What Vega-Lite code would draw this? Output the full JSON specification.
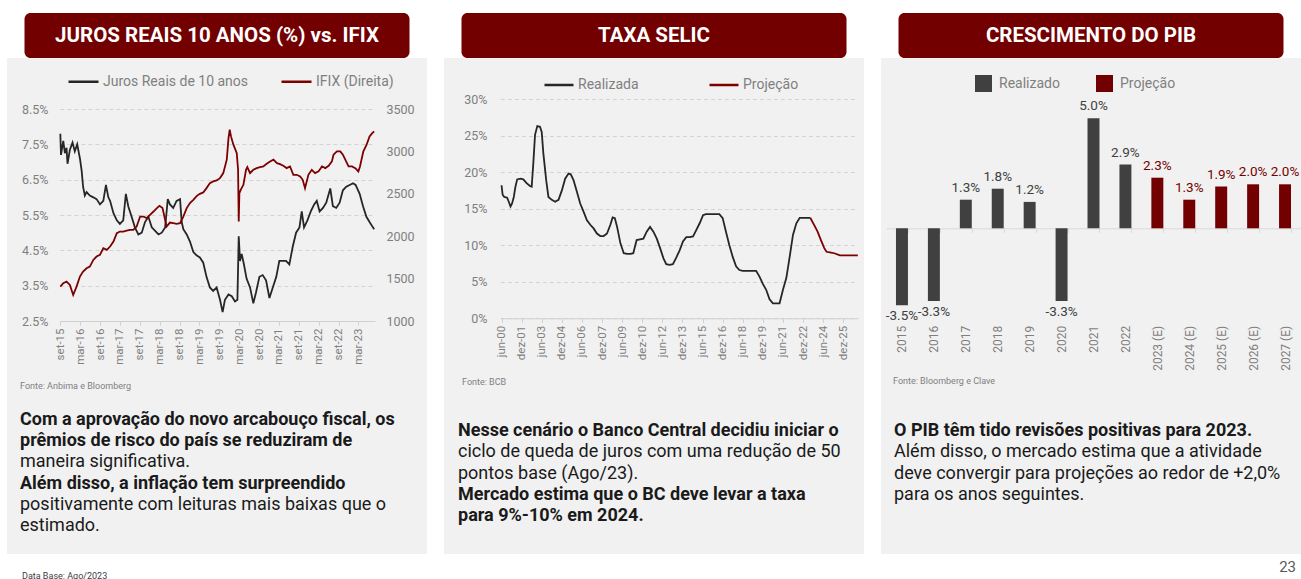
{
  "$schema": "https://vega.github.io/schema/vega-lite/v6.json",
  "background": "white",
  "padding": {"left": 7, "top": 13, "right": 0, "bottom": 0},
  "autosize": {"type": "pad"},
  "spacing": 17,
  "config": {
    "font": "Roboto",
    "view": {"stroke": null},
    "axis": {"labelFont": "Roboto", "labelColor": "#7f7f7f", "titleFont": "Roboto"},
    "axisX": {"labelOverlap": false},
    "legend": {"labelFont": "Roboto", "padding": 0},
    "title": {"font": "Roboto"},
    "locale": {"number": {"decimal": ".", "thousands": ",", "grouping": [3], "currency": ["$", ""], "minus": "-"}}
  },
  "datasets": {
    "juros": [
      {"dt": "2015-09-01", "v": 7.8}, {"dt": "2015-09-07", "v": 7.2}, {"dt": "2015-09-28", "v": 7.6}, {"dt": "2015-10-13", "v": 7.25},
      {"dt": "2015-10-28", "v": 7.4}, {"dt": "2015-11-06", "v": 6.95}, {"dt": "2015-11-28", "v": 7.35}, {"dt": "2015-12-22", "v": 7.55},
      {"dt": "2016-01-12", "v": 7.3}, {"dt": "2016-02-03", "v": 7.5}, {"dt": "2016-02-28", "v": 7.1}, {"dt": "2016-03-15", "v": 6.75},
      {"dt": "2016-03-28", "v": 6.3}, {"dt": "2016-04-13", "v": 6.05}, {"dt": "2016-04-29", "v": 6.15}, {"dt": "2016-05-29", "v": 6.05},
      {"dt": "2016-06-30", "v": 6.0}, {"dt": "2016-07-30", "v": 5.95}, {"dt": "2016-08-30", "v": 5.8}, {"dt": "2016-09-30", "v": 5.9},
      {"dt": "2016-10-24", "v": 6.35}, {"dt": "2016-11-15", "v": 6.0}, {"dt": "2016-12-01", "v": 5.9}, {"dt": "2017-01-01", "v": 5.55},
      {"dt": "2017-02-01", "v": 5.35}, {"dt": "2017-03-01", "v": 5.25}, {"dt": "2017-04-01", "v": 5.35}, {"dt": "2017-04-25", "v": 6.1},
      {"dt": "2017-05-17", "v": 5.75}, {"dt": "2017-06-17", "v": 5.45}, {"dt": "2017-07-17", "v": 5.15}, {"dt": "2017-08-18", "v": 4.95},
      {"dt": "2017-09-18", "v": 5.0}, {"dt": "2017-10-18", "v": 5.3}, {"dt": "2017-11-18", "v": 5.45}, {"dt": "2017-12-19", "v": 5.15},
      {"dt": "2018-01-19", "v": 5.05}, {"dt": "2018-02-19", "v": 4.95}, {"dt": "2018-03-21", "v": 5.0}, {"dt": "2018-04-21", "v": 5.15},
      {"dt": "2018-05-15", "v": 5.95}, {"dt": "2018-06-04", "v": 5.8}, {"dt": "2018-07-04", "v": 5.7}, {"dt": "2018-08-04", "v": 5.9},
      {"dt": "2018-09-05", "v": 5.95}, {"dt": "2018-09-20", "v": 5.3}, {"dt": "2018-10-05", "v": 5.1}, {"dt": "2018-11-05", "v": 4.95},
      {"dt": "2018-12-05", "v": 4.75}, {"dt": "2019-01-05", "v": 4.45}, {"dt": "2019-02-06", "v": 4.35}, {"dt": "2019-03-06", "v": 4.3},
      {"dt": "2019-04-06", "v": 4.15}, {"dt": "2019-05-06", "v": 3.75}, {"dt": "2019-06-06", "v": 3.45}, {"dt": "2019-07-06", "v": 3.35},
      {"dt": "2019-08-07", "v": 3.45}, {"dt": "2019-09-07", "v": 3.1}, {"dt": "2019-10-01", "v": 2.75}, {"dt": "2019-10-22", "v": 3.1},
      {"dt": "2019-11-24", "v": 3.25}, {"dt": "2019-12-24", "v": 3.2}, {"dt": "2020-01-23", "v": 3.05}, {"dt": "2020-02-14", "v": 3.1},
      {"dt": "2020-02-26", "v": 4.9}, {"dt": "2020-03-09", "v": 4.2}, {"dt": "2020-03-24", "v": 4.4}, {"dt": "2020-04-14", "v": 4.1},
      {"dt": "2020-05-08", "v": 3.7}, {"dt": "2020-06-09", "v": 3.45}, {"dt": "2020-07-09", "v": 3.0}, {"dt": "2020-08-02", "v": 3.3},
      {"dt": "2020-09-03", "v": 3.75}, {"dt": "2020-10-03", "v": 3.8}, {"dt": "2020-11-03", "v": 3.65}, {"dt": "2020-12-04", "v": 3.15},
      {"dt": "2021-01-04", "v": 3.45}, {"dt": "2021-02-05", "v": 3.75}, {"dt": "2021-03-05", "v": 4.2}, {"dt": "2021-04-05", "v": 4.2},
      {"dt": "2021-05-05", "v": 4.2}, {"dt": "2021-06-05", "v": 4.1}, {"dt": "2021-07-06", "v": 4.6}, {"dt": "2021-08-06", "v": 5.0},
      {"dt": "2021-09-06", "v": 5.15}, {"dt": "2021-09-27", "v": 5.6}, {"dt": "2021-10-18", "v": 5.15}, {"dt": "2021-11-18", "v": 5.35},
      {"dt": "2021-12-19", "v": 5.6}, {"dt": "2022-01-19", "v": 5.8}, {"dt": "2022-02-12", "v": 5.9}, {"dt": "2022-03-10", "v": 5.6},
      {"dt": "2022-04-10", "v": 5.7}, {"dt": "2022-05-10", "v": 5.85}, {"dt": "2022-06-16", "v": 6.25}, {"dt": "2022-07-10", "v": 5.75},
      {"dt": "2022-08-10", "v": 5.7}, {"dt": "2022-09-10", "v": 5.85}, {"dt": "2022-10-10", "v": 6.2}, {"dt": "2022-11-10", "v": 6.3},
      {"dt": "2022-12-11", "v": 6.35}, {"dt": "2023-01-11", "v": 6.4}, {"dt": "2023-02-04", "v": 6.35}, {"dt": "2023-03-13", "v": 6.1},
      {"dt": "2023-04-13", "v": 5.75}, {"dt": "2023-05-14", "v": 5.45}, {"dt": "2023-06-12", "v": 5.3}, {"dt": "2023-07-13", "v": 5.15},
      {"dt": "2023-07-24", "v": 5.1}
    ],
    "ifix": [
      {"dt": "2015-09-01", "v": 1406}, {"dt": "2015-09-28", "v": 1445}, {"dt": "2015-10-28", "v": 1465}, {"dt": "2015-11-28", "v": 1425},
      {"dt": "2015-12-28", "v": 1307}, {"dt": "2016-01-28", "v": 1406}, {"dt": "2016-02-28", "v": 1524}, {"dt": "2016-03-28", "v": 1583},
      {"dt": "2016-04-29", "v": 1622}, {"dt": "2016-05-29", "v": 1642}, {"dt": "2016-06-30", "v": 1720}, {"dt": "2016-07-30", "v": 1760},
      {"dt": "2016-08-30", "v": 1780}, {"dt": "2016-09-30", "v": 1858}, {"dt": "2016-11-01", "v": 1839}, {"dt": "2016-12-01", "v": 1878},
      {"dt": "2017-01-01", "v": 1937}, {"dt": "2017-02-01", "v": 2035}, {"dt": "2017-03-01", "v": 2055}, {"dt": "2017-04-01", "v": 2055},
      {"dt": "2017-05-02", "v": 2067}, {"dt": "2017-06-02", "v": 2075}, {"dt": "2017-07-02", "v": 2075}, {"dt": "2017-08-02", "v": 2114},
      {"dt": "2017-09-03", "v": 2232}, {"dt": "2017-10-03", "v": 2232}, {"dt": "2017-11-03", "v": 2213}, {"dt": "2017-12-03", "v": 2252},
      {"dt": "2018-01-04", "v": 2291}, {"dt": "2018-02-04", "v": 2331}, {"dt": "2018-02-28", "v": 2358}, {"dt": "2018-03-28", "v": 2331},
      {"dt": "2018-05-04", "v": 2114}, {"dt": "2018-06-04", "v": 2161}, {"dt": "2018-07-04", "v": 2154}, {"dt": "2018-08-04", "v": 2146},
      {"dt": "2018-09-05", "v": 2154}, {"dt": "2018-10-05", "v": 2232}, {"dt": "2018-11-05", "v": 2331}, {"dt": "2018-12-05", "v": 2390},
      {"dt": "2019-01-05", "v": 2429}, {"dt": "2019-02-06", "v": 2476}, {"dt": "2019-03-06", "v": 2500}, {"dt": "2019-04-06", "v": 2516},
      {"dt": "2019-05-06", "v": 2567}, {"dt": "2019-06-06", "v": 2626}, {"dt": "2019-07-06", "v": 2646}, {"dt": "2019-08-07", "v": 2657},
      {"dt": "2019-09-07", "v": 2685}, {"dt": "2019-10-07", "v": 2744}, {"dt": "2019-11-08", "v": 2902}, {"dt": "2019-11-24", "v": 3157},
      {"dt": "2019-12-05", "v": 3256}, {"dt": "2019-12-17", "v": 3177}, {"dt": "2020-01-08", "v": 3079}, {"dt": "2020-02-08", "v": 2980},
      {"dt": "2020-02-20", "v": 2783}, {"dt": "2020-02-26", "v": 2173}, {"dt": "2020-03-03", "v": 2508}, {"dt": "2020-03-15", "v": 2547},
      {"dt": "2020-04-09", "v": 2606}, {"dt": "2020-05-03", "v": 2783}, {"dt": "2020-05-15", "v": 2815}, {"dt": "2020-06-09", "v": 2744},
      {"dt": "2020-07-09", "v": 2783}, {"dt": "2020-08-09", "v": 2803}, {"dt": "2020-09-09", "v": 2815}, {"dt": "2020-10-09", "v": 2823},
      {"dt": "2020-11-09", "v": 2854}, {"dt": "2020-12-10", "v": 2882}, {"dt": "2021-01-10", "v": 2902}, {"dt": "2021-02-11", "v": 2862},
      {"dt": "2021-03-11", "v": 2850}, {"dt": "2021-04-11", "v": 2830}, {"dt": "2021-05-11", "v": 2803}, {"dt": "2021-06-11", "v": 2823},
      {"dt": "2021-07-12", "v": 2724}, {"dt": "2021-08-12", "v": 2724}, {"dt": "2021-09-12", "v": 2705}, {"dt": "2021-10-06", "v": 2665},
      {"dt": "2021-10-27", "v": 2567}, {"dt": "2021-11-27", "v": 2724}, {"dt": "2021-12-28", "v": 2783}, {"dt": "2022-01-28", "v": 2744},
      {"dt": "2022-02-28", "v": 2764}, {"dt": "2022-04-01", "v": 2823}, {"dt": "2022-05-01", "v": 2803}, {"dt": "2022-06-01", "v": 2830},
      {"dt": "2022-07-01", "v": 2882}, {"dt": "2022-07-16", "v": 2961}, {"dt": "2022-08-16", "v": 3000}, {"dt": "2022-09-16", "v": 3000},
      {"dt": "2022-10-10", "v": 2961}, {"dt": "2022-11-01", "v": 2902}, {"dt": "2022-12-01", "v": 2823}, {"dt": "2023-01-01", "v": 2823},
      {"dt": "2023-02-01", "v": 2803}, {"dt": "2023-03-01", "v": 2764}, {"dt": "2023-03-16", "v": 2823}, {"dt": "2023-04-16", "v": 3000},
      {"dt": "2023-05-16", "v": 3079}, {"dt": "2023-06-12", "v": 3177}, {"dt": "2023-07-03", "v": 3209}, {"dt": "2023-07-24", "v": 3236}
    ],
    "selic": [
      {"dt": "2000-06-01", "v": 18.2, "serie": "Realizada"}, {"dt": "2000-07-01", "v": 16.9, "serie": "Realizada"},
      {"dt": "2000-08-15", "v": 16.6, "serie": "Realizada"}, {"dt": "2000-11-01", "v": 16.5, "serie": "Realizada"},
      {"dt": "2000-12-15", "v": 15.95, "serie": "Realizada"}, {"dt": "2001-02-01", "v": 15.3, "serie": "Realizada"},
      {"dt": "2001-03-15", "v": 15.7, "serie": "Realizada"}, {"dt": "2001-05-01", "v": 16.6, "serie": "Realizada"},
      {"dt": "2001-06-15", "v": 18.0, "serie": "Realizada"}, {"dt": "2001-08-01", "v": 19.0, "serie": "Realizada"},
      {"dt": "2001-11-01", "v": 19.1, "serie": "Realizada"}, {"dt": "2002-01-15", "v": 19.0, "serie": "Realizada"},
      {"dt": "2002-04-15", "v": 18.5, "serie": "Realizada"}, {"dt": "2002-07-15", "v": 18.1, "serie": "Realizada"},
      {"dt": "2002-09-01", "v": 18.0, "serie": "Realizada"}, {"dt": "2002-10-15", "v": 21.2, "serie": "Realizada"},
      {"dt": "2002-12-01", "v": 25.1, "serie": "Realizada"}, {"dt": "2003-02-01", "v": 26.3, "serie": "Realizada"},
      {"dt": "2003-04-15", "v": 26.2, "serie": "Realizada"}, {"dt": "2003-06-01", "v": 25.5, "serie": "Realizada"},
      {"dt": "2003-07-15", "v": 22.6, "serie": "Realizada"}, {"dt": "2003-10-01", "v": 18.9, "serie": "Realizada"},
      {"dt": "2003-12-01", "v": 16.6, "serie": "Realizada"}, {"dt": "2004-03-01", "v": 16.2, "serie": "Realizada"},
      {"dt": "2004-06-01", "v": 15.95, "serie": "Realizada"}, {"dt": "2004-09-01", "v": 16.2, "serie": "Realizada"},
      {"dt": "2004-12-01", "v": 17.5, "serie": "Realizada"}, {"dt": "2005-03-01", "v": 19.1, "serie": "Realizada"},
      {"dt": "2005-06-01", "v": 19.8, "serie": "Realizada"}, {"dt": "2005-08-01", "v": 19.7, "serie": "Realizada"},
      {"dt": "2005-10-15", "v": 18.9, "serie": "Realizada"}, {"dt": "2006-01-15", "v": 17.3, "serie": "Realizada"},
      {"dt": "2006-04-15", "v": 15.7, "serie": "Realizada"}, {"dt": "2006-07-15", "v": 14.6, "serie": "Realizada"},
      {"dt": "2006-10-15", "v": 13.4, "serie": "Realizada"}, {"dt": "2007-01-15", "v": 12.8, "serie": "Realizada"},
      {"dt": "2007-04-15", "v": 12.3, "serie": "Realizada"}, {"dt": "2007-07-15", "v": 11.6, "serie": "Realizada"},
      {"dt": "2007-10-15", "v": 11.25, "serie": "Realizada"}, {"dt": "2008-01-15", "v": 11.25, "serie": "Realizada"},
      {"dt": "2008-04-15", "v": 11.6, "serie": "Realizada"}, {"dt": "2008-07-15", "v": 12.8, "serie": "Realizada"},
      {"dt": "2008-09-15", "v": 13.8, "serie": "Realizada"}, {"dt": "2008-11-15", "v": 13.7, "serie": "Realizada"},
      {"dt": "2009-01-15", "v": 12.5, "serie": "Realizada"}, {"dt": "2009-04-15", "v": 10.25, "serie": "Realizada"},
      {"dt": "2009-07-15", "v": 8.9, "serie": "Realizada"}, {"dt": "2009-10-15", "v": 8.8, "serie": "Realizada"},
      {"dt": "2010-01-15", "v": 8.8, "serie": "Realizada"}, {"dt": "2010-04-01", "v": 8.9, "serie": "Realizada"},
      {"dt": "2010-07-01", "v": 10.7, "serie": "Realizada"}, {"dt": "2010-10-01", "v": 10.8, "serie": "Realizada"},
      {"dt": "2011-01-01", "v": 10.9, "serie": "Realizada"}, {"dt": "2011-04-01", "v": 11.85, "serie": "Realizada"},
      {"dt": "2011-07-01", "v": 12.5, "serie": "Realizada"}, {"dt": "2011-10-01", "v": 11.85, "serie": "Realizada"},
      {"dt": "2012-01-01", "v": 10.9, "serie": "Realizada"}, {"dt": "2012-04-01", "v": 9.6, "serie": "Realizada"},
      {"dt": "2012-07-01", "v": 8.2, "serie": "Realizada"}, {"dt": "2012-09-15", "v": 7.4, "serie": "Realizada"},
      {"dt": "2012-12-15", "v": 7.3, "serie": "Realizada"}, {"dt": "2013-03-15", "v": 7.4, "serie": "Realizada"},
      {"dt": "2013-06-15", "v": 8.3, "serie": "Realizada"}, {"dt": "2013-09-15", "v": 9.3, "serie": "Realizada"},
      {"dt": "2013-12-15", "v": 10.5, "serie": "Realizada"}, {"dt": "2014-03-15", "v": 11.1, "serie": "Realizada"},
      {"dt": "2014-06-15", "v": 11.1, "serie": "Realizada"}, {"dt": "2014-09-15", "v": 11.2, "serie": "Realizada"},
      {"dt": "2014-12-15", "v": 12.1, "serie": "Realizada"}, {"dt": "2015-03-15", "v": 13.0, "serie": "Realizada"},
      {"dt": "2015-06-15", "v": 14.1, "serie": "Realizada"}, {"dt": "2015-09-01", "v": 14.25, "serie": "Realizada"},
      {"dt": "2016-09-01", "v": 14.25, "serie": "Realizada"}, {"dt": "2016-12-01", "v": 13.7, "serie": "Realizada"},
      {"dt": "2017-03-01", "v": 11.85, "serie": "Realizada"}, {"dt": "2017-06-01", "v": 10.0, "serie": "Realizada"},
      {"dt": "2017-09-01", "v": 8.4, "serie": "Realizada"}, {"dt": "2017-12-01", "v": 7.1, "serie": "Realizada"},
      {"dt": "2018-03-01", "v": 6.6, "serie": "Realizada"}, {"dt": "2018-06-01", "v": 6.5, "serie": "Realizada"},
      {"dt": "2019-06-01", "v": 6.5, "serie": "Realizada"}, {"dt": "2019-09-01", "v": 5.7, "serie": "Realizada"},
      {"dt": "2019-12-01", "v": 4.7, "serie": "Realizada"}, {"dt": "2020-03-01", "v": 3.9, "serie": "Realizada"},
      {"dt": "2020-06-01", "v": 2.6, "serie": "Realizada"}, {"dt": "2020-09-01", "v": 2.05, "serie": "Realizada"},
      {"dt": "2021-03-01", "v": 2.05, "serie": "Realizada"}, {"dt": "2021-06-01", "v": 3.9, "serie": "Realizada"},
      {"dt": "2021-09-01", "v": 5.5, "serie": "Realizada"}, {"dt": "2021-12-01", "v": 8.4, "serie": "Realizada"},
      {"dt": "2022-03-01", "v": 11.4, "serie": "Realizada"}, {"dt": "2022-06-01", "v": 13.0, "serie": "Realizada"},
      {"dt": "2022-09-01", "v": 13.75, "serie": "Realizada"}, {"dt": "2023-06-15", "v": 13.75, "serie": "Realizada"},
      {"dt": "2023-06-15", "v": 13.75, "serie": "Projeção"}, {"dt": "2023-10-01", "v": 12.75, "serie": "Projeção"},
      {"dt": "2024-01-01", "v": 11.85, "serie": "Projeção"}, {"dt": "2024-04-01", "v": 10.7, "serie": "Projeção"},
      {"dt": "2024-07-01", "v": 9.6, "serie": "Projeção"}, {"dt": "2024-09-01", "v": 9.1, "serie": "Projeção"},
      {"dt": "2025-01-01", "v": 9.0, "serie": "Projeção"}, {"dt": "2025-04-01", "v": 8.9, "serie": "Projeção"},
      {"dt": "2025-09-01", "v": 8.6, "serie": "Projeção"}, {"dt": "2026-03-01", "v": 8.6, "serie": "Projeção"},
      {"dt": "2027-01-01", "v": 8.6, "serie": "Projeção"}
    ],
    "pib": [
      {"ano": "2015", "pib": -0.035, "tipo": "Realizado"}, {"ano": "2016", "pib": -0.033, "tipo": "Realizado"},
      {"ano": "2017", "pib": 0.013, "tipo": "Realizado"}, {"ano": "2018", "pib": 0.018, "tipo": "Realizado"},
      {"ano": "2019", "pib": 0.012, "tipo": "Realizado"}, {"ano": "2020", "pib": -0.033, "tipo": "Realizado"},
      {"ano": "2021", "pib": 0.05, "tipo": "Realizado"}, {"ano": "2022", "pib": 0.029, "tipo": "Realizado"},
      {"ano": "2023 (E)", "pib": 0.023, "tipo": "Projeção"}, {"ano": "2024 (E)", "pib": 0.013, "tipo": "Projeção"},
      {"ano": "2025 (E)", "pib": 0.019, "tipo": "Projeção"}, {"ano": "2026 (E)", "pib": 0.02, "tipo": "Projeção"},
      {"ano": "2027 (E)", "pib": 0.02, "tipo": "Projeção"}
    ],
    "texto1": [
      {"linha": 1, "texto": "Com a aprovação do novo arcabouço fiscal, os", "destaque": true},
      {"linha": 2, "texto": "prêmios de risco do país se reduziram de", "destaque": true},
      {"linha": 3, "texto": "maneira significativa.", "destaque": false},
      {"linha": 4, "texto": "Além disso, a inflação tem surpreendido", "destaque": true},
      {"linha": 5, "texto": "positivamente com leituras mais baixas que o", "destaque": false},
      {"linha": 6, "texto": "estimado.", "destaque": false}
    ],
    "texto2": [
      {"linha": 1, "texto": "Nesse cenário o Banco Central decidiu iniciar o", "destaque": true},
      {"linha": 2, "texto": "ciclo de queda de juros com uma redução de 50", "destaque": false},
      {"linha": 3, "texto": "pontos base (Ago/23).", "destaque": false},
      {"linha": 4, "texto": "Mercado estima que o BC deve levar a taxa", "destaque": true},
      {"linha": 5, "texto": "para 9%-10% em 2024.", "destaque": true}
    ],
    "texto3": [
      {"linha": 1, "texto": "O PIB têm tido revisões positivas para 2023.", "destaque": true},
      {"linha": 2, "texto": "Além disso, o mercado estima que a atividade", "destaque": false},
      {"linha": 3, "texto": "deve convergir para projeções ao redor de +2,0%", "destaque": false},
      {"linha": 4, "texto": "para os anos seguintes.", "destaque": false}
    ]
  },
  "resolve": {"scale": {"color": "independent", "x": "independent", "y": "independent"}},
  "hconcat": [
    {
      "title": {"text": "Data Base: Ago/2023", "orient": "bottom", "anchor": "start", "fontSize": 9, "fontWeight": "normal", "color": "#404040", "offset": 18, "dx": 15},
      "spacing": 0,
      "center": true,
      "resolve": {"scale": {"color": "independent", "x": "independent", "y": "independent"}},
      "vconcat": [
        {
          "width": 385, "height": 45,
          "view": {"fill": "#720000", "stroke": null, "cornerRadius": 6},
          "data": {"values": [{"titulo": "JUROS REAIS 10 ANOS (%) vs. IFIX"}]},
          "mark": {"type": "text", "color": "white", "fontSize": 20.5, "fontWeight": "bold", "font": "Roboto", "baseline": "middle"},
          "encoding": {"text": {"field": "titulo"}}
        },
        {
          "width": 420, "height": 496,
          "view": {"fill": "#f1f1f1", "stroke": null},
          "resolve": {"scale": {"y": "independent"}, "axis": {"y": "independent"}},
          "layer": [
            {
              "data": {"name": "juros"},
              "mark": {"type": "line", "strokeWidth": 1.8, "clip": false},
              "encoding": {
                "x": {
                  "field": "dt", "type": "temporal",
                  "scale": {"type": "utc", "domain": [{"year": 2015, "month": 8, "date": 28, "utc": true}, {"year": 2023, "month": 8, "date": 1, "utc": true}], "range": [52.9, 368]},
                  "axis": {
                    "orient": "bottom", "offset": -233, "title": null, "grid": false,
                    "values": [
                      {"year": 2015, "month": 9, "date": 1, "utc": true}, {"year": 2016, "month": 3, "date": 1, "utc": true},
                      {"year": 2016, "month": 9, "date": 1, "utc": true}, {"year": 2017, "month": 3, "date": 1, "utc": true},
                      {"year": 2017, "month": 9, "date": 1, "utc": true}, {"year": 2018, "month": 3, "date": 1, "utc": true},
                      {"year": 2018, "month": 9, "date": 1, "utc": true}, {"year": 2019, "month": 3, "date": 1, "utc": true},
                      {"year": 2019, "month": 9, "date": 1, "utc": true}, {"year": 2020, "month": 3, "date": 1, "utc": true},
                      {"year": 2020, "month": 9, "date": 1, "utc": true}, {"year": 2021, "month": 3, "date": 1, "utc": true},
                      {"year": 2021, "month": 9, "date": 1, "utc": true}, {"year": 2022, "month": 3, "date": 1, "utc": true},
                      {"year": 2022, "month": 9, "date": 1, "utc": true}, {"year": 2023, "month": 3, "date": 1, "utc": true}
                    ],
                    "labelExpr": "(utcmonth(datum.value) == 8 ? 'set-' : 'mar-') + utcFormat(datum.value, '%y')",
                    "labelAngle": -90, "labelFontSize": 11.5, "labelColor": "#7f7f7f", "labelPadding": 3,
                    "labelFlush": false, "labelOverlap": false, "labelBound": false,
                    "domainColor": "#d0d0d0", "tickColor": "#d0d0d0", "tickSize": 4
                  }
                },
                "y": {
                  "field": "v", "type": "quantitative",
                  "scale": {"domain": [2.5, 8.5], "range": [263, 51], "nice": false, "zero": false},
                  "axis": {
                    "orient": "left", "offset": -41, "title": null, "values": [2.5, 3.5, 4.5, 5.5, 6.5, 7.5, 8.5],
                    "labelExpr": "format(datum.value, '.1f') + '%'", "grid": true, "gridDash": [4, 3], "gridColor": "#d3d3d3",
                    "domain": false, "ticks": false, "labelPadding": 0, "labelFontSize": 12.5, "labelColor": "#7f7f7f"
                  }
                },
                "color": {
                  "datum": "Juros Reais de 10 anos", "type": "nominal",
                  "scale": {"domain": ["Juros Reais de 10 anos", "IFIX (Direita)"], "range": ["#262626", "#7b0000"]},
                  "legend": {
                    "orient": "none", "legendX": 60, "legendY": 7, "direction": "horizontal", "title": null,
                    "symbolType": "stroke", "symbolSize": 900, "symbolStrokeWidth": 2.5,
                    "labelFontSize": 14, "labelColor": "#7f7f7f", "columnPadding": 27, "labelOffset": 3
                  }
                }
              }
            },
            {
              "data": {"name": "ifix"},
              "mark": {"type": "line", "strokeWidth": 1.8, "clip": false},
              "encoding": {
                "x": {
                  "field": "dt", "type": "temporal",
                  "axis": {
                    "orient": "bottom", "offset": -233, "title": null, "grid": false,
                    "values": [
                      {"year": 2015, "month": 9, "date": 1, "utc": true}, {"year": 2016, "month": 3, "date": 1, "utc": true},
                      {"year": 2016, "month": 9, "date": 1, "utc": true}, {"year": 2017, "month": 3, "date": 1, "utc": true},
                      {"year": 2017, "month": 9, "date": 1, "utc": true}, {"year": 2018, "month": 3, "date": 1, "utc": true},
                      {"year": 2018, "month": 9, "date": 1, "utc": true}, {"year": 2019, "month": 3, "date": 1, "utc": true},
                      {"year": 2019, "month": 9, "date": 1, "utc": true}, {"year": 2020, "month": 3, "date": 1, "utc": true},
                      {"year": 2020, "month": 9, "date": 1, "utc": true}, {"year": 2021, "month": 3, "date": 1, "utc": true},
                      {"year": 2021, "month": 9, "date": 1, "utc": true}, {"year": 2022, "month": 3, "date": 1, "utc": true},
                      {"year": 2022, "month": 9, "date": 1, "utc": true}, {"year": 2023, "month": 3, "date": 1, "utc": true}
                    ],
                    "labelExpr": "(utcmonth(datum.value) == 8 ? 'set-' : 'mar-') + utcFormat(datum.value, '%y')",
                    "labelAngle": -90, "labelFontSize": 11.5, "labelColor": "#7f7f7f", "labelPadding": 3,
                    "labelFlush": false, "labelOverlap": false, "labelBound": false,
                    "domainColor": "#d0d0d0", "tickColor": "#d0d0d0", "tickSize": 4
                  }
                },
                "y": {
                  "field": "v", "type": "quantitative",
                  "scale": {"domain": [1000, 3500], "range": [263, 51], "nice": false, "zero": false},
                  "axis": {
                    "orient": "right", "offset": -41, "title": null, "values": [1000, 1500, 2000, 2500, 3000, 3500],
                    "format": "d", "grid": false, "domain": false, "ticks": false, "labelPadding": 0,
                    "labelFontSize": 12.5, "labelColor": "#7f7f7f"
                  }
                },
                "color": {"datum": "IFIX (Direita)", "type": "nominal"}
              }
            },
            {
              "data": {"values": [{"fonte": "Fonte: Anbima e Bloomberg"}]},
              "mark": {"type": "text", "align": "left", "baseline": "middle", "fontSize": 9, "color": "#7f7f7f", "x": 13, "y": 328},
              "encoding": {"text": {"field": "fonte"}}
            },
            {
              "data": {"name": "texto1"},
              "transform": [{"filter": "datum.destaque"}],
              "mark": {"type": "text", "align": "left", "baseline": "middle", "fontSize": 18, "fontWeight": "bold", "color": "#1a1a1a", "x": 13},
              "encoding": {
                "y": {"field": "linha", "type": "quantitative", "scale": {"domain": [1, 6], "range": [362, 468], "zero": false, "nice": false}, "axis": null},
                "text": {"field": "texto"}
              }
            },
            {
              "data": {"name": "texto1"},
              "transform": [{"filter": "!datum.destaque"}],
              "mark": {"type": "text", "align": "left", "baseline": "middle", "fontSize": 18, "fontWeight": "normal", "color": "#1a1a1a", "x": 13},
              "encoding": {
                "y": {"field": "linha", "type": "quantitative", "scale": {"domain": [1, 6], "range": [362, 468], "zero": false, "nice": false}, "axis": null},
                "text": {"field": "texto"}
              }
            }
          ]
        }
      ]
    },
    {
      "spacing": 11,
      "resolve": {"scale": {"color": "independent", "x": "independent", "y": "independent"}},
      "hconcat": [
        {
          "spacing": 0,
          "center": true,
          "resolve": {"scale": {"color": "independent", "x": "independent", "y": "independent"}},
          "vconcat": [
            {
              "width": 385, "height": 45,
              "view": {"fill": "#720000", "stroke": null, "cornerRadius": 6},
              "data": {"values": [{"titulo": "TAXA SELIC"}]},
              "mark": {"type": "text", "color": "white", "fontSize": 20.5, "fontWeight": "bold", "font": "Roboto", "baseline": "middle"},
              "encoding": {"text": {"field": "titulo"}}
            },
            {
              "width": 420, "height": 496,
              "view": {"fill": "#f1f1f1", "stroke": null},
              "resolve": {"scale": {"y": "independent"}, "axis": {"y": "independent"}},
              "layer": [
                {
                  "data": {"name": "selic"},
                  "mark": {"type": "line", "strokeWidth": 1.8, "clip": false},
                  "encoding": {
                    "x": {
                      "field": "dt", "type": "temporal",
                      "scale": {"type": "utc", "domain": [{"year": 2000, "month": 5, "date": 1, "utc": true}, {"year": 2027, "month": 1, "date": 1, "utc": true}], "range": [56.4, 413.8]},
                      "axis": {
                        "orient": "bottom", "offset": -235.7, "title": null, "grid": false,
                        "values": [
                          {"year": 2000, "month": 6, "date": 1, "utc": true}, {"year": 2001, "month": 12, "date": 1, "utc": true},
                          {"year": 2003, "month": 6, "date": 1, "utc": true}, {"year": 2004, "month": 12, "date": 1, "utc": true},
                          {"year": 2006, "month": 6, "date": 1, "utc": true}, {"year": 2007, "month": 12, "date": 1, "utc": true},
                          {"year": 2009, "month": 6, "date": 1, "utc": true}, {"year": 2010, "month": 12, "date": 1, "utc": true},
                          {"year": 2012, "month": 6, "date": 1, "utc": true}, {"year": 2013, "month": 12, "date": 1, "utc": true},
                          {"year": 2015, "month": 6, "date": 1, "utc": true}, {"year": 2016, "month": 12, "date": 1, "utc": true},
                          {"year": 2018, "month": 6, "date": 1, "utc": true}, {"year": 2019, "month": 12, "date": 1, "utc": true},
                          {"year": 2021, "month": 6, "date": 1, "utc": true}, {"year": 2022, "month": 12, "date": 1, "utc": true},
                          {"year": 2024, "month": 6, "date": 1, "utc": true}, {"year": 2025, "month": 12, "date": 1, "utc": true}
                        ],
                        "labelExpr": "(utcmonth(datum.value) == 5 ? 'jun-' : 'dez-') + utcFormat(datum.value, '%y')",
                        "labelAngle": -90, "labelFontSize": 11.5, "labelColor": "#7f7f7f", "labelPadding": 3,
                        "labelFlush": false, "labelOverlap": false, "labelBound": false,
                        "domainColor": "#d0d0d0", "tickColor": "#d0d0d0", "tickSize": 4
                      }
                    },
                    "y": {
                      "field": "v", "type": "quantitative",
                      "scale": {"domain": [0, 30], "range": [260.3, 41], "nice": false, "zero": false},
                      "axis": {
                        "orient": "left", "offset": -43, "title": null, "values": [0, 5, 10, 15, 20, 25, 30],
                        "labelExpr": "datum.value + '%'", "grid": true, "gridDash": [4, 3], "gridColor": "#d3d3d3",
                        "domain": false, "ticks": false, "labelPadding": 0, "labelFontSize": 12.5, "labelColor": "#7f7f7f"
                      }
                    },
                    "color": {
                      "field": "serie", "type": "nominal",
                      "scale": {"domain": ["Realizada", "Projeção"], "range": ["#262626", "#7b0000"]},
                      "legend": {
                        "orient": "none", "legendX": 99, "legendY": 11, "direction": "horizontal", "title": null,
                        "symbolType": "stroke", "symbolSize": 841, "symbolStrokeWidth": 2.5,
                        "labelFontSize": 14, "labelColor": "#7f7f7f", "columnPadding": 65, "labelOffset": 3
                      }
                    }
                  }
                },
                {
                  "data": {"values": [{"fonte": "Fonte: BCB"}]},
                  "mark": {"type": "text", "align": "left", "baseline": "middle", "fontSize": 9, "color": "#7f7f7f", "x": 18, "y": 324},
                  "encoding": {"text": {"field": "fonte"}}
                },
                {
                  "data": {"name": "texto2"},
                  "transform": [{"filter": "datum.destaque"}],
                  "mark": {"type": "text", "align": "left", "baseline": "middle", "fontSize": 18, "fontWeight": "bold", "color": "#1a1a1a", "x": 14},
                  "encoding": {
                    "y": {"field": "linha", "type": "quantitative", "scale": {"domain": [1, 5], "range": [373, 458], "zero": false, "nice": false}, "axis": null},
                    "text": {"field": "texto"}
                  }
                },
                {
                  "data": {"name": "texto2"},
                  "transform": [{"filter": "!datum.destaque"}],
                  "mark": {"type": "text", "align": "left", "baseline": "middle", "fontSize": 18, "fontWeight": "normal", "color": "#1a1a1a", "x": 14},
                  "encoding": {
                    "y": {"field": "linha", "type": "quantitative", "scale": {"domain": [1, 5], "range": [373, 458], "zero": false, "nice": false}, "axis": null},
                    "text": {"field": "texto"}
                  }
                }
              ]
            }
          ]
        },
        {
          "title": {"text": "23", "orient": "bottom", "anchor": "end", "fontSize": 15, "fontWeight": "normal", "color": "#595959", "offset": 6, "dx": -5},
          "spacing": 0,
          "center": true,
          "resolve": {"scale": {"color": "independent", "x": "independent", "y": "independent"}},
          "vconcat": [
            {
              "width": 385, "height": 45,
              "view": {"fill": "#720000", "stroke": null, "cornerRadius": 6},
              "data": {"values": [{"titulo": "CRESCIMENTO DO PIB"}]},
              "mark": {"type": "text", "color": "white", "fontSize": 20.5, "fontWeight": "bold", "font": "Roboto", "baseline": "middle"},
              "encoding": {"text": {"field": "titulo"}}
            },
            {
              "width": 420, "height": 496,
              "view": {"fill": "#f1f1f1", "stroke": null},
              "resolve": {"scale": {"y": "independent"}, "axis": {"y": "independent"}},
              "layer": [
                {
                  "data": {"name": "pib"},
                  "mark": {"type": "bar"},
                  "encoding": {
                    "x": {
                      "field": "ano", "type": "nominal", "sort": null,
                      "scale": {"range": [5, 420], "paddingInner": 0.625, "paddingOuter": 0.3125},
                      "axis": {
                        "orient": "bottom", "offset": -325.7, "title": null, "labelAngle": -90, "labelPadding": 93,
                        "tickBand": "extent", "tickSize": 4, "domainColor": "#d9d9d9", "tickColor": "#d9d9d9",
                        "labelFontSize": 12, "labelColor": "#7f7f7f", "grid": false
                      }
                    },
                    "y": {"field": "pib", "type": "quantitative", "scale": {"domain": [-0.04, 0.06], "range": [258.3, 38.3], "nice": false}, "axis": null},
                    "color": {
                      "field": "tipo", "type": "nominal",
                      "scale": {"domain": ["Realizado", "Projeção"], "range": ["#404040", "#730000"]},
                      "legend": {
                        "orient": "none", "legendX": 94, "legendY": 17, "direction": "horizontal", "title": null,
                        "symbolType": "square", "symbolSize": 289, "symbolStrokeWidth": 0,
                        "labelFontSize": 14, "labelColor": "#7f7f7f", "columnPadding": 36, "labelOffset": 7
                      }
                    }
                  }
                },
                {
                  "data": {"name": "pib"},
                  "transform": [{"filter": "datum.pib >= 0"}],
                  "mark": {"type": "text", "baseline": "alphabetic", "dy": -8, "fontSize": 13.5},
                  "encoding": {
                    "x": {"field": "ano", "type": "nominal", "sort": null},
                    "y": {"field": "pib", "type": "quantitative", "scale": {"domain": [-0.04, 0.06], "range": [258.3, 38.3], "nice": false}, "axis": null},
                    "text": {"field": "pib", "type": "quantitative", "format": ".1%"},
                    "color": {"field": "tipo", "type": "nominal", "legend": null}
                  }
                },
                {
                  "data": {"name": "pib"},
                  "transform": [{"filter": "datum.pib < 0"}],
                  "mark": {"type": "text", "baseline": "middle", "dy": 11, "fontSize": 13.5},
                  "encoding": {
                    "x": {"field": "ano", "type": "nominal", "sort": null},
                    "y": {"field": "pib", "type": "quantitative", "scale": {"domain": [-0.04, 0.06], "range": [258.3, 38.3], "nice": false}, "axis": null},
                    "text": {"field": "pib", "type": "quantitative", "format": ".1%"},
                    "color": {"field": "tipo", "type": "nominal", "legend": null}
                  }
                },
                {
                  "data": {"values": [{"fonte": "Fonte: Bloomberg e Clave"}]},
                  "mark": {"type": "text", "align": "left", "baseline": "middle", "fontSize": 9, "color": "#7f7f7f", "x": 12, "y": 323},
                  "encoding": {"text": {"field": "fonte"}}
                },
                {
                  "data": {"name": "texto3"},
                  "transform": [{"filter": "datum.destaque"}],
                  "mark": {"type": "text", "align": "left", "baseline": "middle", "fontSize": 18, "fontWeight": "bold", "color": "#1a1a1a", "x": 13},
                  "encoding": {
                    "y": {"field": "linha", "type": "quantitative", "scale": {"domain": [1, 4], "range": [373, 437], "zero": false, "nice": false}, "axis": null},
                    "text": {"field": "texto"}
                  }
                },
                {
                  "data": {"name": "texto3"},
                  "transform": [{"filter": "!datum.destaque"}],
                  "mark": {"type": "text", "align": "left", "baseline": "middle", "fontSize": 18, "fontWeight": "normal", "color": "#1a1a1a", "x": 13},
                  "encoding": {
                    "y": {"field": "linha", "type": "quantitative", "scale": {"domain": [1, 4], "range": [373, 437], "zero": false, "nice": false}, "axis": null},
                    "text": {"field": "texto"}
                  }
                }
              ]
            }
          ]
        }
      ]
    }
  ]
}
